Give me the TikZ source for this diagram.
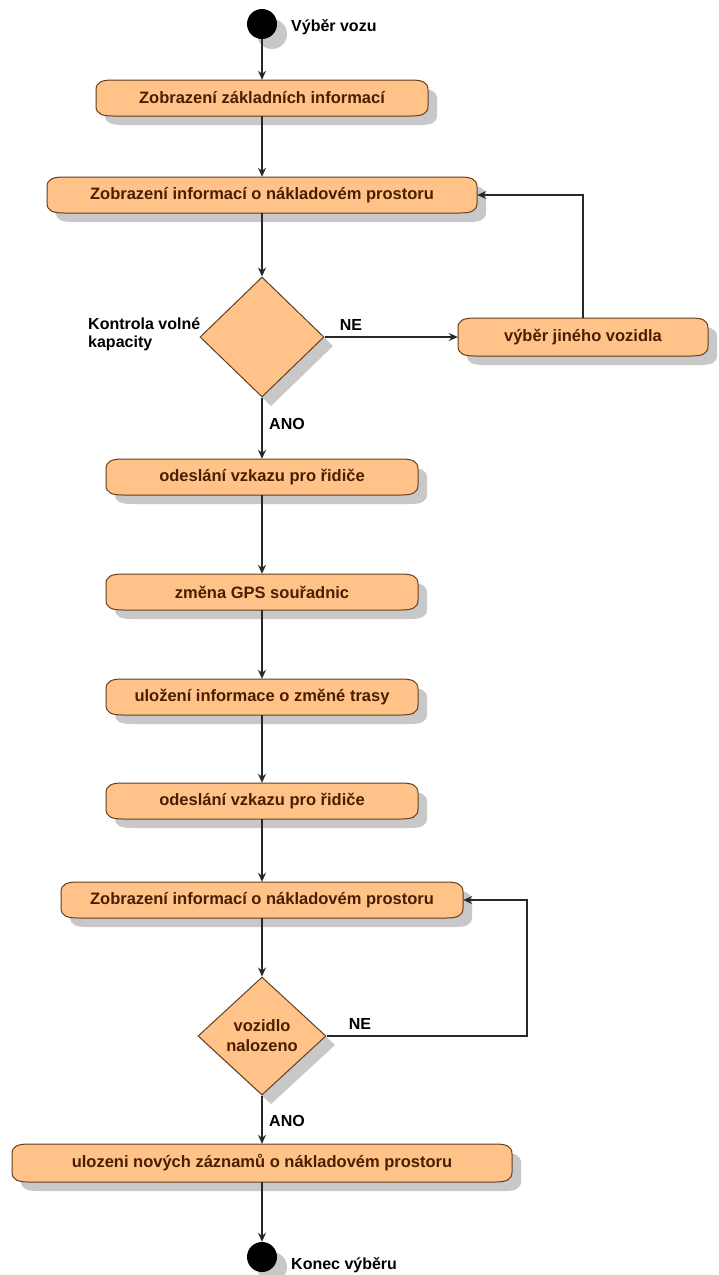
\documentclass[tikz,border=0pt]{standalone}
\usepackage{fontspec}
\setmainfont{Liberation Sans}
\usetikzlibrary{arrows.meta,calc,shapes.geometric}

\definecolor{actfill}{RGB}{255,195,138}
\definecolor{actedge}{RGB}{100,62,30}
\definecolor{acttext}{RGB}{75,30,0}
\definecolor{shadowc}{RGB}{200,200,200}
\definecolor{linec}{RGB}{40,40,40}

\tikzset{
  flow/.style={draw=linec, line width=1.1pt, -{Stealth[length=9pt,width=8pt,inset=3pt]}},
  acttxt/.style={font=\bfseries\fontsize{16.5}{20}\selectfont, text=acttext, inner sep=0pt, align=center},
  lbl/.style={font=\bfseries\fontsize{16}{18}\selectfont, text=black, inner sep=0pt},
  actshape/.style={fill=actfill, draw=actedge, line width=1pt},
  decision/.style={diamond, fill=actfill, draw=actedge, line width=1pt, inner sep=0pt},
  endpoint/.style={circle, fill=black, minimum size=30pt, inner sep=0pt},
}

% outline of an activity: flat top and bottom, bulging ends
\newcommand\actpath[2]{%
  (-#1,-#2+10) .. controls (-#1,-#2+2) and (-#1+6,-#2) .. (-#1+17,-#2) -- (#1-17,-#2)
  .. controls (#1-6,-#2) and (#1,-#2+2) .. (#1,-#2+10) -- (#1,#2-10)
  .. controls (#1,#2-2) and (#1-6,#2) .. (#1-17,#2) -- (-#1+17,#2)
  .. controls (-#1+6,#2) and (-#1,#2-2) .. (-#1,#2-10) -- cycle}

% name, centre x, centre y, half width, half height, text
\newcommand\actbox[6]{%
  \fill[shadowc, shift={(#2+9,#3+9)}] \actpath{#4}{#5};
  \path[actshape, shift={(#2,#3)}] \actpath{#4}{#5};
  \node[acttxt, minimum width={2*#4pt}, minimum height={2*#5pt}] (#1) at (#2,#3) {#6};
}

\begin{document}
\begin{tikzpicture}[x=1pt, y=-1pt]
  \fill[white] (0,0) rectangle (718,1275);
  \useasboundingbox (0,0) rectangle (718,1275);

  % start
  \fill[shadowc] (272,34) circle (15pt);
  \node[endpoint] (start) at (262,24) {};
  \node[lbl, anchor=west] (startlbl) at (291,27) {Výběr vozu};

  % upper part
  \actbox{b1}{262}{98}{166}{18}{Zobrazení základních informací}
  \actbox{b2}{262}{195}{215}{18}{Zobrazení informací o nákladovém prostoru}

  \fill[shadowc, shift={(9,9)}] (262,277) -- (324,337) -- (262,397) -- (200,337) -- cycle;
  \node[decision, minimum width=124pt, minimum height=120pt] (d1) at (262,337) {};
  \node[lbl, anchor=north west, align=left, font=\bfseries\fontsize{16}{18}\selectfont] (d1lbl) at (88,318) {Kontrola volné\\kapacity};

  \actbox{r}{583}{337}{125}{19}{výběr jiného vozidla}

  % sequence
  \actbox{b3}{262}{477}{156}{18}{odeslání vzkazu pro řidiče}
  \actbox{b4}{262}{592}{156}{18}{změna GPS souřadnic}
  \actbox{b5}{262}{697}{156}{18}{uložení informace o změné trasy}
  \actbox{b6}{262}{801}{156}{18}{odeslání vzkazu pro řidiče}
  \actbox{b7}{262}{900}{201}{18}{Zobrazení informací o nákladovém prostoru}

  \fill[shadowc, shift={(9,9)}] (262,977) -- (326,1036) -- (262,1095) -- (198,1036) -- cycle;
  \node[decision, minimum width=128pt, minimum height=118pt, acttxt] (d2) at (262,1036) {vozidlo\\nalozeno};

  \actbox{b8}{262}{1163}{250}{19}{ulozeni nových záznamů o nákladovém prostoru}

  % end
  \fill[shadowc] (272,1267) circle (15pt);
  \node[endpoint] (stop) at (262,1257) {};
  \node[lbl, anchor=west] (stoplbl) at (291,1265) {Konec výběru};

  % connectors
  \draw[flow] (start) -- (start |- b1.north);
  \draw[flow] (b1.south) -- (b2.north);
  \draw[flow] (b2.south) -- (d1.north);
  \draw[flow] (d1.east) -- (d1.east -| r.west);
  \draw[flow] (r.north) |- (b2.east);
  \draw[flow] (d1.south) -- (b3.north);
  \draw[flow] (b3.south) -- (b4.north);
  \draw[flow] (b4.south) -- (b5.north);
  \draw[flow] (b5.south) -- (b6.north);
  \draw[flow] (b6.south) -- (b7.north);
  \draw[flow] (b7.south) -- (d2.north);
  \coordinate (loop) at (527,1036);
  \draw[flow] (d2.east) -- (loop) |- (b7.east);
  \draw[flow] (d2.south) -- (b8.north);
  \draw[flow] (b8.south) -- (stop.north);

  % branch labels
  \node[lbl] (ne1) at (351,325) {NE};
  \node[lbl] (ano1) at (287,424) {ANO};
  \node[lbl] (ne2) at (360,1024) {NE};
  \node[lbl] (ano2) at (287,1121) {ANO};
\end{tikzpicture}
\end{document}
